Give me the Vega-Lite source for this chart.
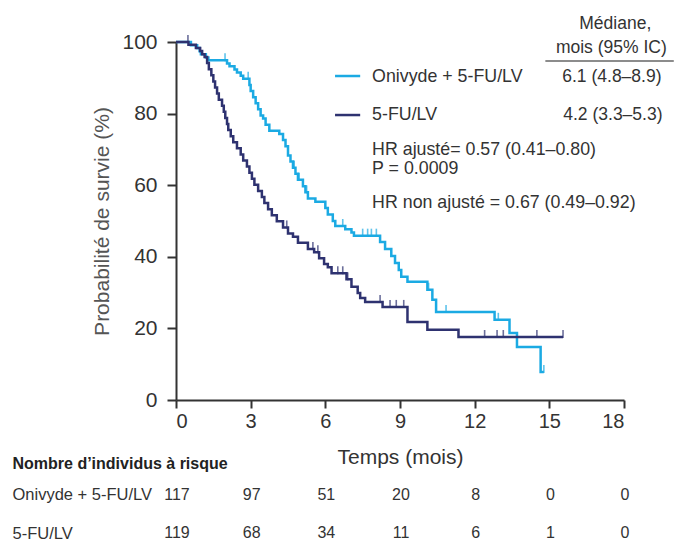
{
  "$schema": "https://vega.github.io/schema/vega-lite/v6.json",
  "padding": {"left": 12, "top": 15, "right": 2, "bottom": 2},
  "spacing": 87,
  "bounds": "flush",
  "config": {"font": "Liberation Sans", "view": {"stroke": null}, "axis": {"grid": false}},
  "datasets": {
    "one": [{}],
    "km": [
      {"arm":"onivyde","t":0,"s":100},{"arm":"onivyde","t":0.6,"s":99.1},{"arm":"onivyde","t":0.85,"s":98.3},{"arm":"onivyde","t":0.95,"s":97.4},{"arm":"onivyde","t":1.0,"s":96.6},{"arm":"onivyde","t":1.2,"s":95.7},{"arm":"onivyde","t":1.3,"s":94.9},{"arm":"onivyde","t":2.05,"s":94.0},{"arm":"onivyde","t":2.15,"s":93.2},{"arm":"onivyde","t":2.35,"s":92.3},{"arm":"onivyde","t":2.45,"s":91.5},{"arm":"onivyde","t":2.6,"s":90.6},{"arm":"onivyde","t":2.7,"s":89.7},{"arm":"onivyde","t":2.95,"s":88.0},{"arm":"onivyde","t":3.0,"s":86.3},{"arm":"onivyde","t":3.1,"s":84.6},{"arm":"onivyde","t":3.2,"s":82.9},{"arm":"onivyde","t":3.3,"s":81.2},{"arm":"onivyde","t":3.4,"s":79.5},{"arm":"onivyde","t":3.5,"s":78.6},{"arm":"onivyde","t":3.6,"s":76.9},{"arm":"onivyde","t":3.75,"s":75.2},{"arm":"onivyde","t":4.15,"s":74.3},{"arm":"onivyde","t":4.3,"s":72.6},{"arm":"onivyde","t":4.4,"s":70.9},{"arm":"onivyde","t":4.5,"s":68.3},{"arm":"onivyde","t":4.6,"s":66.6},{"arm":"onivyde","t":4.7,"s":64.9},{"arm":"onivyde","t":4.8,"s":63.2},{"arm":"onivyde","t":4.9,"s":61.5},{"arm":"onivyde","t":5.1,"s":59.7},{"arm":"onivyde","t":5.2,"s":58.0},{"arm":"onivyde","t":5.3,"s":56.3},{"arm":"onivyde","t":5.6,"s":55.4},{"arm":"onivyde","t":6.0,"s":53.6},{"arm":"onivyde","t":6.1,"s":51.8},{"arm":"onivyde","t":6.3,"s":50.0},{"arm":"onivyde","t":6.4,"s":48.6},{"arm":"onivyde","t":6.8,"s":47.7},{"arm":"onivyde","t":7.05,"s":46.8},{"arm":"onivyde","t":7.15,"s":45.9},{"arm":"onivyde","t":8.2,"s":44.1},{"arm":"onivyde","t":8.4,"s":42.2},{"arm":"onivyde","t":8.65,"s":40.2},{"arm":"onivyde","t":8.8,"s":38.3},{"arm":"onivyde","t":8.95,"s":36.3},{"arm":"onivyde","t":9.05,"s":34.4},{"arm":"onivyde","t":9.3,"s":33.0},{"arm":"onivyde","t":10.1,"s":30.8},{"arm":"onivyde","t":10.3,"s":28.0},{"arm":"onivyde","t":10.45,"s":24.6},{"arm":"onivyde","t":12.8,"s":22.4},{"arm":"onivyde","t":13.4,"s":18.7},{"arm":"onivyde","t":13.7,"s":14.8},{"arm":"onivyde","t":14.65,"s":7.8},{"arm":"onivyde","t":14.78,"s":7.8},
      {"arm":"fulv","t":0,"s":100},{"arm":"fulv","t":0.5,"s":99.2},{"arm":"fulv","t":0.8,"s":98.3},{"arm":"fulv","t":0.97,"s":97.5},{"arm":"fulv","t":1.05,"s":96.6},{"arm":"fulv","t":1.15,"s":95.8},{"arm":"fulv","t":1.25,"s":94.1},{"arm":"fulv","t":1.32,"s":92.4},{"arm":"fulv","t":1.42,"s":90.7},{"arm":"fulv","t":1.5,"s":89.0},{"arm":"fulv","t":1.57,"s":87.3},{"arm":"fulv","t":1.65,"s":85.6},{"arm":"fulv","t":1.72,"s":83.9},{"arm":"fulv","t":1.85,"s":82.2},{"arm":"fulv","t":1.92,"s":80.5},{"arm":"fulv","t":1.98,"s":78.8},{"arm":"fulv","t":2.05,"s":77.1},{"arm":"fulv","t":2.1,"s":75.4},{"arm":"fulv","t":2.2,"s":73.7},{"arm":"fulv","t":2.3,"s":72.0},{"arm":"fulv","t":2.45,"s":70.3},{"arm":"fulv","t":2.6,"s":68.6},{"arm":"fulv","t":2.7,"s":66.9},{"arm":"fulv","t":2.85,"s":65.2},{"arm":"fulv","t":2.95,"s":63.5},{"arm":"fulv","t":3.05,"s":61.8},{"arm":"fulv","t":3.15,"s":60.1},{"arm":"fulv","t":3.3,"s":58.4},{"arm":"fulv","t":3.45,"s":56.7},{"arm":"fulv","t":3.55,"s":55.0},{"arm":"fulv","t":3.7,"s":53.3},{"arm":"fulv","t":3.85,"s":51.6},{"arm":"fulv","t":4.05,"s":49.9},{"arm":"fulv","t":4.3,"s":48.2},{"arm":"fulv","t":4.5,"s":46.5},{"arm":"fulv","t":4.7,"s":45.6},{"arm":"fulv","t":4.9,"s":43.9},{"arm":"fulv","t":5.3,"s":42.2},{"arm":"fulv","t":5.55,"s":41.3},{"arm":"fulv","t":5.75,"s":39.6},{"arm":"fulv","t":5.95,"s":38.0},{"arm":"fulv","t":6.1,"s":37.1},{"arm":"fulv","t":6.25,"s":35.4},{"arm":"fulv","t":6.85,"s":33.7},{"arm":"fulv","t":7.05,"s":31.6},{"arm":"fulv","t":7.3,"s":29.9},{"arm":"fulv","t":7.4,"s":28.5},{"arm":"fulv","t":7.6,"s":27.4},{"arm":"fulv","t":8.3,"s":26.0},{"arm":"fulv","t":9.3,"s":21.8},{"arm":"fulv","t":10.1,"s":19.6},{"arm":"fulv","t":11.35,"s":17.6},{"arm":"fulv","t":15.55,"s":17.6}
    ],
    "censor": [
      {"arm":"onivyde","t":1.97,"s":94.9},{"arm":"onivyde","t":2.9,"s":89.7},{"arm":"onivyde","t":4.75,"s":64.9},{"arm":"onivyde","t":4.95,"s":61.5},{"arm":"onivyde","t":5.25,"s":58.0},{"arm":"onivyde","t":6.7,"s":48.6},{"arm":"onivyde","t":7.5,"s":45.9},{"arm":"onivyde","t":7.7,"s":45.9},{"arm":"onivyde","t":7.85,"s":45.9},{"arm":"onivyde","t":8.05,"s":45.9},{"arm":"onivyde","t":10.15,"s":30.8},{"arm":"onivyde","t":10.85,"s":24.6},{"arm":"onivyde","t":12.95,"s":22.4},{"arm":"onivyde","t":14.78,"s":7.8},
      {"arm":"fulv","t":0.48,"s":100},{"arm":"fulv","t":4.45,"s":48.2},{"arm":"fulv","t":5.5,"s":42.2},{"arm":"fulv","t":5.7,"s":41.3},{"arm":"fulv","t":6.5,"s":35.4},{"arm":"fulv","t":6.7,"s":35.4},{"arm":"fulv","t":6.9,"s":33.7},{"arm":"fulv","t":8.2,"s":27.4},{"arm":"fulv","t":8.6,"s":26.0},{"arm":"fulv","t":8.85,"s":26.0},{"arm":"fulv","t":9.15,"s":26.0},{"arm":"fulv","t":12.4,"s":17.6},{"arm":"fulv","t":12.9,"s":17.6},{"arm":"fulv","t":13.15,"s":17.6},{"arm":"fulv","t":14.5,"s":17.6},{"arm":"fulv","t":15.55,"s":17.6}
    ],
    "risk": [
      {"group":"Onivyde + 5-FU/LV","t":0,"n":"117"},{"group":"Onivyde + 5-FU/LV","t":3,"n":"97"},{"group":"Onivyde + 5-FU/LV","t":6,"n":"51"},{"group":"Onivyde + 5-FU/LV","t":9,"n":"20"},{"group":"Onivyde + 5-FU/LV","t":12,"n":"8"},{"group":"Onivyde + 5-FU/LV","t":15,"n":"0"},{"group":"Onivyde + 5-FU/LV","t":18,"n":"0"},
      {"group":"5-FU/LV","t":0,"n":"119"},{"group":"5-FU/LV","t":3,"n":"68"},{"group":"5-FU/LV","t":6,"n":"34"},{"group":"5-FU/LV","t":9,"n":"11"},{"group":"5-FU/LV","t":12,"n":"6"},{"group":"5-FU/LV","t":15,"n":"1"},{"group":"5-FU/LV","t":18,"n":"0"}
    ]
  },
  "vconcat": [
    {
      "width": 448,
      "height": 358,
      "layer": [
        {
          "data": {"name": "km"},
          "mark": {"type": "line", "interpolate": "step-after", "strokeWidth": 2.5},
          "encoding": {
            "x": {"field": "t", "type": "quantitative", "scale": {"domain": [0, 18]},
              "axis": {"title": "Temps (mois)", "values": [0,3,6,9,12,15,18], "labelFontSize": 20, "labelColor": "#333", "titleFontSize": 21, "titleFontWeight": "normal", "titleColor": "#333", "titlePadding": 15, "domainColor": "#333", "domainWidth": 2, "tickColor": "#333", "tickWidth": 2, "tickSize": 8, "labelPadding": 3}},
            "y": {"field": "s", "type": "quantitative", "scale": {"domain": [0, 100]},
              "axis": {"title": "Probabilité de survie (%)", "values": [0,20,40,60,80,100], "labelFontSize": 21, "labelColor": "#333", "titleFontSize": 21, "titleFontWeight": "normal", "titleColor": "#555", "titlePadding": 9, "domainColor": "#333", "domainWidth": 2, "tickColor": "#333", "tickWidth": 2, "tickSize": 9, "labelPadding": 10}},
            "color": {"field": "arm", "type": "nominal", "scale": {"domain": ["onivyde", "fulv"], "range": ["#1BAAE3", "#2E3270"]}, "legend": null}
          }
        },
        {
          "data": {"name": "censor"},
          "mark": {"type": "tick", "orient": "vertical", "size": 8, "thickness": 1.6, "yOffset": -3},
          "encoding": {
            "x": {"field": "t", "type": "quantitative"},
            "y": {"field": "s", "type": "quantitative"},
            "color": {"field": "arm", "type": "nominal", "legend": null}
          }
        },
        {
          "data": {"name": "one"},
          "mark": {"type": "rule", "color": "#666", "strokeWidth": 1.5},
          "encoding": {"x": {"datum": 14.84}, "x2": {"datum": 20.0}, "y": {"datum": 94.7}}
        },
        {
          "data": {"name": "one"},
          "mark": {"type": "rule", "color": "#1BAAE3", "strokeWidth": 2.5},
          "encoding": {"x": {"datum": 6.39}, "x2": {"datum": 7.4}, "y": {"datum": 90.5}}
        },
        {
          "data": {"name": "one"},
          "mark": {"type": "rule", "color": "#2E3270", "strokeWidth": 2.5},
          "encoding": {"x": {"datum": 6.39}, "x2": {"datum": 7.4}, "y": {"datum": 79.6}}
        },
        {
          "data": {"name": "one"},
          "mark": {"type": "text", "align": "center", "baseline": "middle", "fontSize": 17.5, "color": "#333"},
          "encoding": {"x": {"datum": 17.65}, "y": {"datum": 105}, "text": {"value": "Médiane,"}}
        },
        {
          "data": {"name": "one"},
          "mark": {"type": "text", "align": "center", "baseline": "middle", "fontSize": 17.5, "color": "#333"},
          "encoding": {"x": {"datum": 17.49}, "y": {"datum": 98.3}, "text": {"value": "mois (95% IC)"}}
        },
        {
          "data": {"name": "one"},
          "mark": {"type": "text", "align": "left", "baseline": "middle", "fontSize": 17.8, "color": "#333"},
          "encoding": {"x": {"datum": 7.88}, "y": {"datum": 90.2}, "text": {"value": "Onivyde + 5-FU/LV"}}
        },
        {
          "data": {"name": "one"},
          "mark": {"type": "text", "align": "left", "baseline": "middle", "fontSize": 17.8, "color": "#333"},
          "encoding": {"x": {"datum": 7.88}, "y": {"datum": 79.6}, "text": {"value": "5-FU/LV"}}
        },
        {
          "data": {"name": "one"},
          "mark": {"type": "text", "align": "left", "baseline": "middle", "fontSize": 17.5, "color": "#333"},
          "encoding": {"x": {"datum": 15.52}, "y": {"datum": 90.2}, "text": {"value": "6.1 (4.8–8.9)"}}
        },
        {
          "data": {"name": "one"},
          "mark": {"type": "text", "align": "left", "baseline": "middle", "fontSize": 17.5, "color": "#333"},
          "encoding": {"x": {"datum": 15.56}, "y": {"datum": 79.6}, "text": {"value": "4.2 (3.3–5.3)"}}
        },
        {
          "data": {"name": "one"},
          "mark": {"type": "text", "align": "left", "baseline": "middle", "fontSize": 17.8, "color": "#333"},
          "encoding": {"x": {"datum": 7.88}, "y": {"datum": 69.8}, "text": {"value": "HR ajusté= 0.57 (0.41–0.80)"}}
        },
        {
          "data": {"name": "one"},
          "mark": {"type": "text", "align": "left", "baseline": "middle", "fontSize": 17.8, "color": "#333"},
          "encoding": {"x": {"datum": 7.88}, "y": {"datum": 64.5}, "text": {"value": "P = 0.0009"}}
        },
        {
          "data": {"name": "one"},
          "mark": {"type": "text", "align": "left", "baseline": "middle", "fontSize": 17.8, "color": "#333"},
          "encoding": {"x": {"datum": 7.88}, "y": {"datum": 55.0}, "text": {"value": "HR non ajusté = 0.67 (0.49–0.92)"}}
        }
      ]
    },
    {
      "width": 448,
      "height": 54,
      "data": {"name": "risk"},
      "mark": {"type": "text", "align": "center", "baseline": "middle", "fontSize": 16, "color": "#333", "dx": 1},
      "encoding": {
        "x": {"field": "t", "type": "quantitative", "scale": {"domain": [0, 18]}, "axis": null},
        "y": {"field": "group", "type": "nominal", "sort": ["Onivyde + 5-FU/LV", "5-FU/LV"], "scale": {"type": "point", "padding": 0.21},
          "axis": {"title": "Nombre d’individus à risque", "titleAngle": 0, "titleAlign": "left", "titleBaseline": "middle", "titleX": -164, "titleY": -24, "titleFontSize": 16, "titleFontWeight": "bold", "titleColor": "#222",
            "labelAlign": "left", "labelBaseline": "middle", "labelPadding": 164, "ticks": false, "tickSize": 0, "domain": false, "labelFontSize": 16.5, "labelColor": "#333"}},
        "text": {"field": "n"}
      }
    }
  ]
}
